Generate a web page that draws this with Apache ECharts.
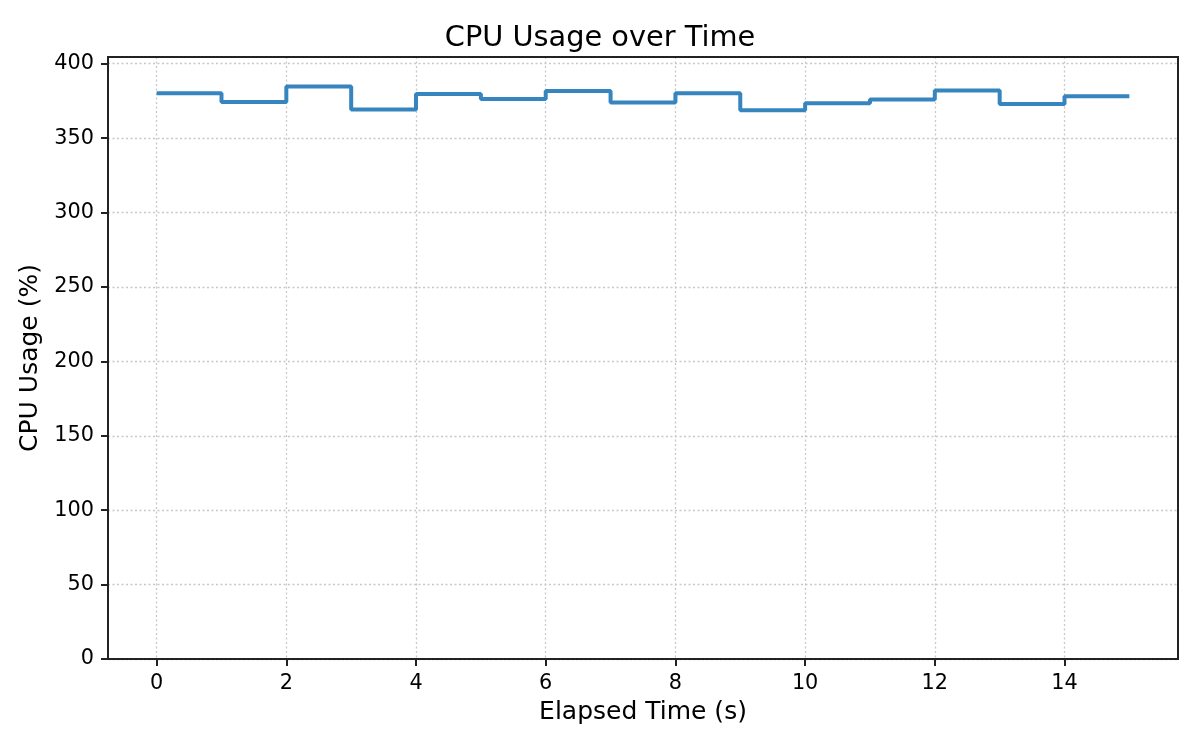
<!DOCTYPE html>
<html>
<head>
<meta charset="utf-8">
<script src="https://cdn.jsdelivr.net/npm/echarts@6/dist/echarts.min.js"></script>
<style>
  html, body { margin: 0; padding: 0; background: #fff; }
  #chart { width: 1200px; height: 750px; }
</style>
</head>
<body>
<div id="chart"></div>
<script>
// Elapsed time (s) and CPU usage (%) — step (post) data
const elapsedTime = [0, 1, 2, 3, 4, 5, 6, 7, 8, 9, 10, 11, 12, 13, 14, 15];
const cpuUsage = [380.2, 374.2, 384.7, 369.3, 379.6, 376.2, 381.6, 374.0, 380.2, 368.8, 373.5, 376.0, 382.0, 372.9, 378.2, 378.2];
const xTicks = [0, 2, 4, 6, 8, 10, 12, 14];
const yTicks = [0, 50, 100, 150, 200, 250, 300, 350, 400];

const font = 'DejaVu Sans';
const chart = echarts.init(document.getElementById('chart'), null, { renderer: 'canvas' });

chart.setOption({
  animation: false,
  backgroundColor: '#ffffff',
  title: {
    text: 'CPU Usage over Time',
    left: 'center',
    top: 19,
    textStyle: { fontFamily: font, fontSize: 28.8, fontWeight: 'normal', color: '#000' }
  },
  grid: { left: 108, right: 22, top: 57, bottom: 91, containLabel: false },
  xAxis: {
    type: 'value',
    min: -0.75,
    max: 15.75,
    name: 'Elapsed Time (s)',
    nameLocation: 'middle',
    nameGap: 41,
    nameTextStyle: { fontFamily: font, fontSize: 25, color: '#000' },
    axisLine: { show: true, onZero: false, lineStyle: { color: '#222', width: 2 } },
    axisTick: { show: true, length: 7, customValues: xTicks, lineStyle: { color: '#222', width: 2 } },
    axisLabel: { customValues: xTicks, margin: 14, fontFamily: font, fontSize: 20.8, color: '#000' },
    splitLine: { show: true, lineStyle: { color: '#c8c8c8', width: 1.3, type: [2, 2.5] } }
  },
  yAxis: {
    type: 'value',
    min: 0,
    max: 404.5,
    name: 'CPU Usage (%)',
    nameLocation: 'middle',
    nameGap: 62,
    nameTextStyle: { fontFamily: font, fontSize: 25, color: '#000' },
    axisLine: { show: true, onZero: false, lineStyle: { color: '#222', width: 2 } },
    axisTick: { show: true, length: 7, customValues: yTicks, lineStyle: { color: '#222', width: 2 } },
    axisLabel: { customValues: yTicks, margin: 14, fontFamily: font, fontSize: 20.8, color: '#000' },
    splitLine: { show: true, lineStyle: { color: '#c8c8c8', width: 1.3, type: [2, 2.5] } }
  },
  series: [{
    type: 'line',
    step: 'end',
    data: elapsedTime.map((t, i) => [t, cpuUsage[i]]),
    showSymbol: false,
    lineStyle: { color: '#3685bf', width: 4 },
    itemStyle: { color: '#3685bf' }
  }],
  graphic: [{
    type: 'rect',
    shape: { x: 108, y: 57, width: 1070, height: 602 },
    style: { fill: 'none', stroke: '#222', lineWidth: 2 },
    silent: true,
    z: 10
  }]
});
</script>
</body>
</html>
